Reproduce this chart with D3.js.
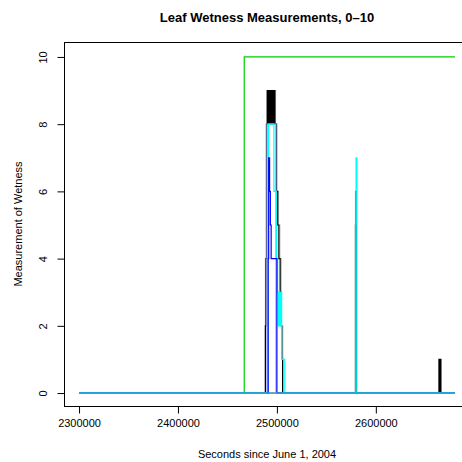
<!DOCTYPE html>
<html>
<head>
<meta charset="utf-8">
<script src="https://cdn.jsdelivr.net/npm/d3@7"></script>
<style>
  body { margin: 0; background: #fff; }
  svg { display: block; font-family: "Liberation Sans", Arial, sans-serif; }
</style>
</head>
<body>
<svg width="462" height="462"></svg>
<script>
// tick values
const xTicks = [2300000, 2400000, 2500000, 2600000];
const yTicks = [0, 2, 4, 6, 8, 10];

// each sensor: [seconds, reading] change points, drawn as steps (null = missing)
const redSensor = [[2300000, 0], [2680000, 0]];
const greenSensor = [[2300000, 0], [2467000, 10], [2680000, 10]];
const greySensor = [[2300000, 0], [2487800, 2], [2488400, 4], [2489000, 8], [2489800, 9],
  [2498600, 8], [2500200, 6], [2501600, 5], [2503000, 4], [2504400, 2], [2506000, 0],
  [2579000, 5], [2580000, 0], [2680000, 0]];
const blackSensor = [[2300000, 0], [2488500, 2], [2489000, 4], [2489600, 8], [2490300, 9],
  [2491000, 8], [2491700, 9], [2492400, 8], [2493100, 9], [2493800, 8], [2494500, 9],
  [2495200, 8], [2495900, 9], [2496600, 8], [2497300, 9], [2498000, 8], [2499500, 6],
  [2500800, 5], [2502000, 4], [2503300, 3], [2504300, 2], [2505000, 1], [2505800, 0],
  [2663800, 1], [2664500, 0], [2665000, 1], [2665800, 0], [2680000, 0]];
const paleSensor = [[2300000, 0], [2490000, 8], [2499000, 0], [2680000, 0]];
const cyanSensor = [[2300000, 0], [2490800, 5], [2491600, 8], [2497000, 6], [2499500, 4],
  [2500700, 3], [2501500, 2], [2502300, 3], [2503100, 2], [2504000, 3], [2504800, 1],
  [2508000, 0], [2580000, 7], [2580900, 0], [2680000, 0]];
const blueSensor = [[2300000, 0], [2491200, 4], [2491700, 7], [2492600, 6], [2493400, 5],
  [2494200, 4], [2500000, 0], [2579600, 2], [2580300, 0], [2680000, 0]];
const turquoiseSensor = [[2300000, 0], [2579500, 6], [2579900, 5], [2580400, 0], [2680000, 0]];
const tealSensor = [[2300000, 0], [2489900, 0], [2489900, null], [2505300, 0],
  [2579000, 0], [2579000, null], [2581200, 0], [2680000, 0]];

const sensors = [
  { values: redSensor, color: "#ff0000" },
  { values: greenSensor, color: "#00d000" },
  { values: greySensor, color: "#bebebe" },
  { values: blackSensor, color: "#000000" },
  { values: paleSensor, color: "#9aaefc" },
  { values: cyanSensor, color: "#00ffff" },
  { values: blueSensor, color: "#0000ff" },
  { values: turquoiseSensor, color: "#00ced1" },
  { values: tealSensor, color: "#3aa9c9" }
];

const svg = d3.select("svg");
const x = d3.scaleLinear().domain([2284800, 2695200]).range([64, 470]);
const y = d3.scaleLinear().domain([-0.4, 10.4]).range([406.5, 43.5]);

const line = d3.line()
  .defined(d => d[1] !== null)
  .curve(d3.curveStepAfter)
  .x(d => x(d[0]))
  .y(d => y(d[1]));

sensors.forEach(s => {
  svg.append("path")
    .attr("d", line(s.values))
    .attr("fill", "none")
    .attr("stroke", s.color)
    .attr("stroke-width", 1.2);
});

// box
svg.append("rect")
  .attr("x", 64.5).attr("y", 42.5)
  .attr("width", 420).attr("height", 364)
  .attr("fill", "none").attr("stroke", "#000").attr("stroke-width", 1);

// x axis
const gx = svg.append("g")
  .attr("transform", "translate(0,406.5)")
  .call(d3.axisBottom(x).tickValues(xTicks).tickFormat(d3.format("d")).tickSize(7).tickPadding(6));
gx.select(".domain").remove();
gx.selectAll("text").style("font-size", "11px").attr("fill", "#000");

// y axis
const gy = svg.append("g")
  .attr("transform", "translate(64.5,0)")
  .call(d3.axisLeft(y).tickValues(yTicks).tickSize(7));
gy.select(".domain").remove();
gy.selectAll("text")
  .attr("transform", "rotate(-90)")
  .attr("x", 0).attr("y", -18).attr("dy", 0)
  .attr("text-anchor", "middle")
  .attr("fill", "#000")
  .style("font-size", "11px");

// titles
svg.append("text")
  .attr("x", 267).attr("y", 21.5)
  .attr("text-anchor", "middle")
  .style("font-size", "13px").style("font-weight", "bold")
  .text("Leaf Wetness Measurements, 0\u201310");

svg.append("text")
  .attr("x", 267).attr("y", 457.5)
  .attr("text-anchor", "middle")
  .style("font-size", "11px")
  .text("Seconds since June 1, 2004");

svg.append("text")
  .attr("transform", "translate(22,224) rotate(-90)")
  .attr("text-anchor", "middle")
  .style("font-size", "11px")
  .text("Measurement of Wetness");
</script>
</body>
</html>
